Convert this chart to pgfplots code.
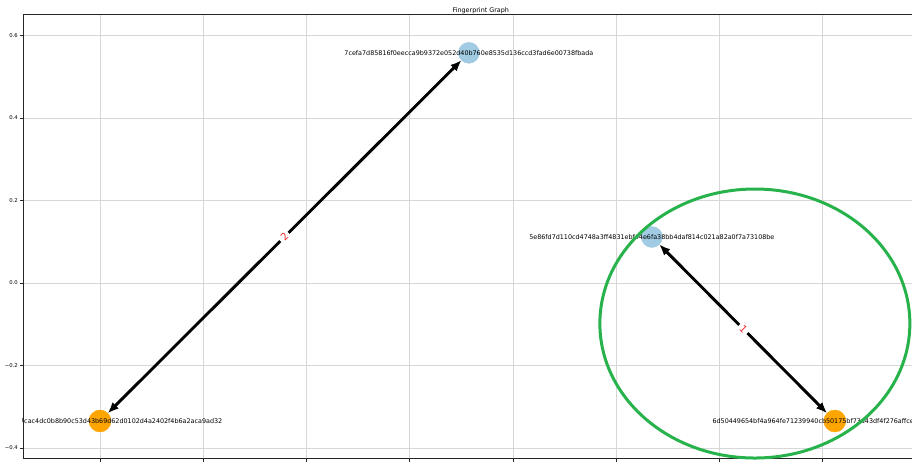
\documentclass[border=0pt]{standalone}
\usepackage{pgfplots}
\pgfplotsset{compat=1.18}
\usepackage{fontspec}
\setmainfont{DejaVu Sans}
\usetikzlibrary{arrows.meta}
\definecolor{nodeblue}{RGB}{160,203,226}
\definecolor{nodeorange}{RGB}{255,165,0}
\definecolor{markgreen}{RGB}{40,178,76}
\definecolor{gridgray}{RGB}{215,215,215}
\definecolor{labelred}{RGB}{245,40,40}
\begin{document}
\begin{tikzpicture}
\begin{axis}[
  at={(23pt,3pt)}, anchor=south west,
  scale only axis, width=915.6pt, height=444pt,
  xmin=-1.1864, xmax=1.031, ymin=-0.4242, ymax=0.6521,
  clip=false, clip marker paths=true,
  axis line style={black!85, line width=0.5pt},
  xtick={-1,-0.75,-0.5,-0.25,0,0.25,0.5,0.75,1},
  xticklabels={},
  ytick={-0.4,-0.2,0,0.2,0.4,0.6},
  yticklabels={−0.4,−0.2,0.0,0.2,0.4,0.6},
  xtick pos=bottom, ytick pos=left,
  tick align=outside, major tick length=3.5pt,
  tick style={black!85, line width=0.5pt},
  grid=major, grid style={gridgray, line width=0.5pt},
  /pgf/number format/assume math mode=true,
  yticklabel style={font=\fontsize{5.3}{6}\selectfont, inner sep=1.6pt},
]
% nodes
\addplot[only marks, mark=*, mark size=11pt, color=nodeorange, mark options={draw=nodeorange, fill=nodeorange}]
  coordinates {(-1.0,-0.3345) (0.7797,-0.3345)};
\addplot[only marks, mark=*, mark size=10.5pt, color=nodeblue, mark options={draw=nodeblue, fill=nodeblue}]
  coordinates {(-0.1065,0.558) (0.3366,0.1115)};
% edges
\addplot[black, line width=2.9pt, {Latex[length=11pt,width=9pt]}-{Latex[length=11pt,width=9pt]}, shorten >=10.5pt, shorten <=11pt]
  coordinates {(-1.0,-0.3345) (-0.1065,0.558)};
\addplot[black, line width=2.9pt, {Latex[length=11pt,width=9pt]}-{Latex[length=11pt,width=9pt]}, shorten >=11pt, shorten <=10.5pt]
  coordinates {(0.3366,0.1115) (0.7797,-0.3345)};
% title
\node[font=\fontsize{6.4}{7.5}\selectfont, anchor=base] at ([yshift=1.2pt]rel axis cs:0.5,1) {Fingerprint Graph};
% edge labels
\node[fill=white, inner sep=2.5pt, text=labelred, rotate=45, font=\fontsize{10}{11}\selectfont] at (axis cs:-0.5533,0.1118) {2};
\node[fill=white, inner sep=2.5pt, text=labelred, rotate=-45, font=\fontsize{10}{11}\selectfont] at (axis cs:0.5582,-0.1115) {1};
% node labels
\node[font=\fontsize{6.4}{7.5}\selectfont] at (axis cs:-0.1065,0.558) {7cefa7d85816f0eecca9b9372e052d40b760e8535d136ccd3fad6e00738fbada};
\node[font=\fontsize{6.4}{7.5}\selectfont] at (axis cs:0.3366,0.1115) {5e86fd7d110cd4748a3ff4831ebf44e6fa38bb4daf814c021a82a0f7a73108be};
\begin{scope}
\clip (rel axis cs:0,0) rectangle (rel axis cs:1,1);
\node[font=\fontsize{6.4}{7.5}\selectfont, anchor=east, inner xsep=0pt] at ([xshift=122.5pt]axis cs:-1.0,-0.3345) {97cac4dc0b8b90c53d43b69d62d0102d4a2402f4b6a2aca9ad32};
\end{scope}
\node[font=\fontsize{6.4}{7.5}\selectfont, anchor=west, inner xsep=0pt] at ([xshift=-122.5pt]axis cs:0.7797,-0.3345) {6d50449654bf4a964fe71239940cb50175bf73d43df4f276affce0a1};
% annotation ellipse
\draw[markgreen, line width=3pt] (axis cs:0.586,-0.0982) ellipse [x radius=155pt, y radius=134.5pt];
\end{axis}
\pgfresetboundingbox
\path[use as bounding box] (0,0) rectangle (912pt,461pt);
\end{tikzpicture}
\end{document}
